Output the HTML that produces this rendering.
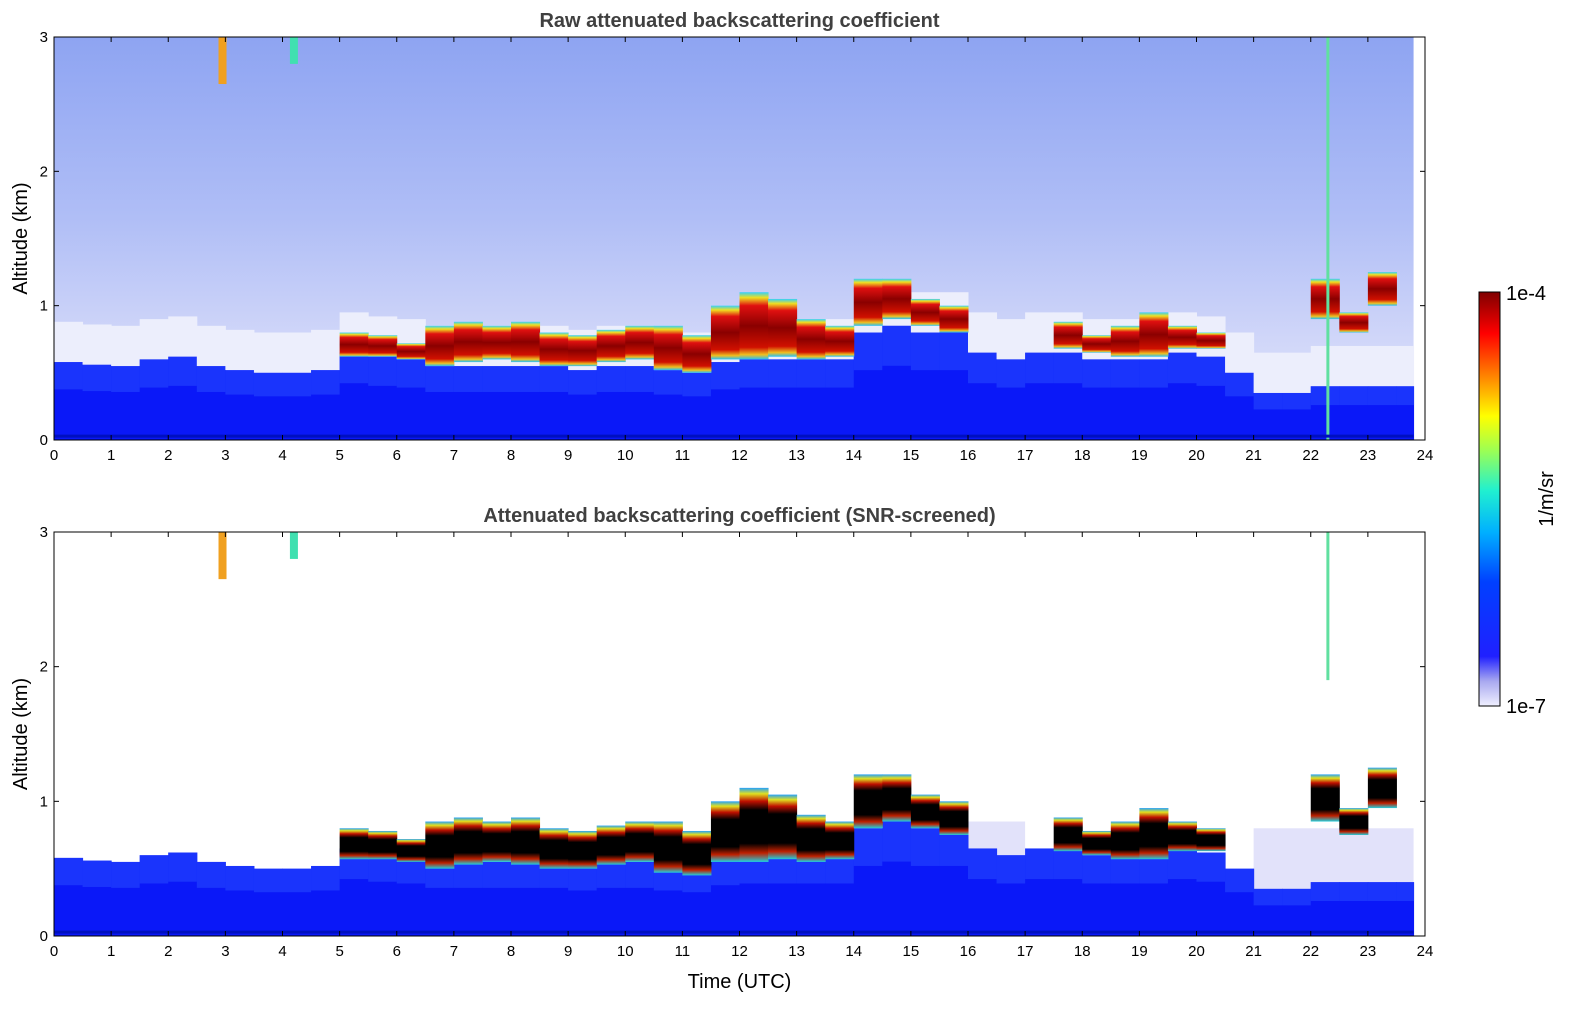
<!DOCTYPE html>
<html><head><meta charset="utf-8">
<style>
html,body{margin:0;padding:0;background:#fff;}
svg{display:block;font-family:"Liberation Sans","DejaVu Sans",sans-serif;}
</style></head>
<body>
<svg id="chart" width="1595" height="1020" viewBox="0 0 1595 1020">
<defs>
  <linearGradient id="noiseGrad" x1="0" y1="0" x2="0" y2="1">
    <stop offset="0" stop-color="#8ea4f2"/>
    <stop offset="0.45" stop-color="#b0bef6"/>
    <stop offset="0.75" stop-color="#d0d6f9"/>
    <stop offset="1" stop-color="#e4e7fb"/>
  </linearGradient>
  <linearGradient id="cloudTopGrad" x1="0" y1="0" x2="0" y2="1">
    <stop offset="0" stop-color="#30d0ff"/>
    <stop offset="0.08" stop-color="#f0e020"/>
    <stop offset="0.2" stop-color="#e01010"/>
    <stop offset="0.5" stop-color="#8a0000"/>
    <stop offset="0.82" stop-color="#d01000"/>
    <stop offset="0.93" stop-color="#f0c020"/>
    <stop offset="1" stop-color="#20c0ff"/>
  </linearGradient>
  <linearGradient id="cloudBotGrad" x1="0" y1="0" x2="0" y2="1">
    <stop offset="0" stop-color="#20a0ff"/>
    <stop offset="0.08" stop-color="#e0e020"/>
    <stop offset="0.18" stop-color="#c01000"/>
    <stop offset="0.3" stop-color="#000"/>
    <stop offset="0.75" stop-color="#000"/>
    <stop offset="0.88" stop-color="#c02000"/>
    <stop offset="1" stop-color="#20d0e0"/>
  </linearGradient>
  <linearGradient id="cbGrad" x1="0" y1="1" x2="0" y2="0">
    <stop offset="0" stop-color="#f0f0ff"/>
    <stop offset="0.06" stop-color="#a8a8f0"/>
    <stop offset="0.12" stop-color="#2020ff"/>
    <stop offset="0.3" stop-color="#0040ff"/>
    <stop offset="0.42" stop-color="#00b0ff"/>
    <stop offset="0.52" stop-color="#20f0d0"/>
    <stop offset="0.62" stop-color="#a0ff50"/>
    <stop offset="0.7" stop-color="#ffff00"/>
    <stop offset="0.8" stop-color="#ff8000"/>
    <stop offset="0.9" stop-color="#ff0000"/>
    <stop offset="1" stop-color="#800000"/>
  </linearGradient>
  <clipPath id="clipTop"><rect x="54" y="37" width="1371" height="403"/></clipPath>
  <clipPath id="clipBot"><rect x="54" y="532" width="1371" height="404"/></clipPath>
</defs>
<g id="top"></g>
<g id="bot"></g>
<g id="cb"></g>
</svg>
<script>
const times = [0,0.5,1,1.5,2,2.5,3,3.5,4,4.5,5,5.5,6,6.5,7,7.5,8,8.5,9,9.5,10,10.5,11,11.5,12,12.5,13,13.5,14,14.5,15,15.5,16,16.5,17,17.5,18,18.5,19,19.5,20,20.5,21,21.5,22,22.5,23,23.5];
const blTop = [0.58,0.56,0.55,0.6,0.62,0.55,0.52,0.5,0.5,0.52,0.65,0.62,0.6,0.55,0.55,0.55,0.55,0.55,0.52,0.55,0.55,0.52,0.5,0.58,0.6,0.6,0.6,0.6,0.8,0.85,0.8,0.8,0.65,0.6,0.65,0.65,0.6,0.6,0.6,0.65,0.62,0.5,0.35,0.35,0.4,0.4,0.4,0.4];
const cloudBase = [0,0,0,0,0,0,0,0,0,0,0.62,0.62,0.6,0.55,0.58,0.6,0.58,0.55,0.55,0.58,0.6,0.52,0.5,0.6,0.6,0.62,0.6,0.62,0.85,0.9,0.85,0.8,0,0,0,0.68,0.65,0.62,0.62,0.68,0.68,0,0,0,0.9,0.8,1.0,0];
const cloudTop = [0,0,0,0,0,0,0,0,0,0,0.8,0.78,0.72,0.85,0.88,0.85,0.88,0.8,0.78,0.82,0.85,0.85,0.78,1.0,1.1,1.05,0.9,0.85,1.2,1.2,1.05,1.0,0,0,0,0.88,0.78,0.85,0.95,0.85,0.8,0,0,0,1.2,0.95,1.25,0];
const lavStart = [14,21];
const lavEnd = [17,23.8];
const lavTop = [0.85,0.8];
const plumeTimes = [2.95,4.2,22.3];
const plumeBottoms = [2.65,2.8,1.9];
const plumeColors = ["#f0a020","#40e0b0","#60e0a0"];
const xTicks = [0,1,2,3,4,5,6,7,8,9,10,11,12,13,14,15,16,17,18,19,20,21,22,23,24];
const yTicks = [0,1,2,3];
const dataEnd = 23.8;
const binW = 0.5;

const NS = "http://www.w3.org/2000/svg";
function mk(tag, attrs, parent){ const e=document.createElementNS(NS,tag); for(const k in attrs) e.setAttribute(k,attrs[k]); parent.appendChild(e); return e; }

function panel(g, y0, y1, raw, title, showXLabel){
  const X0=54, X1=1425;
  const xs = t => X0 + (t/24)*(X1-X0);
  const ys = a => y1 - (a/3)*(y1-y0);
  const clip = mk('g',{'clip-path': raw?'url(#clipTop)':'url(#clipBot)'},g);
  if(raw){
    const n = mk('rect',{x:xs(0),y:ys(3),width:xs(dataEnd)-xs(0),height:ys(0)-ys(3),fill:'url(#noiseGrad)'},clip);
    
    
  } else {
    for(let i=0;i<lavStart.length;i++){
      const r = mk('rect',{x:xs(lavStart[i]),y:ys(lavTop[i]),width:xs(lavEnd[i])-xs(lavStart[i]),height:ys(0)-ys(lavTop[i]),fill:'#e2e2fa'},clip);
      
      
    }
  }
  for(let i=0;i<times.length;i++){
    const t=times[i], w=Math.min(binW, dataEnd-t);
    if(w<=0) continue;
    if(raw){
      const h = mk('rect',{x:xs(t),y:ys(blTop[i]+0.3),width:xs(t+w)-xs(t)+0.5,height:ys(blTop[i])-ys(blTop[i]+0.3),fill:'#eceefc'},clip);
      
      
    }
    const b = mk('rect',{x:xs(t),y:ys(blTop[i]),width:xs(t+w)-xs(t)+0.5,height:ys(0)-ys(blTop[i]),fill:'#0a18f8'},clip);
    
    
    const b2 = mk('rect',{x:xs(t),y:ys(blTop[i]),width:xs(t+w)-xs(t)+0.5,height:(ys(0)-ys(blTop[i]))*0.35,fill:'#2a50ff',opacity:0.5},clip);
    
    
  }
  for(let i=0;i<times.length;i++){
    if(!cloudTop[i]) continue;
    const t=times[i];
    const base = raw ? cloudBase[i] : cloudBase[i]-0.05;
    const c = mk('rect',{x:xs(t),y:ys(cloudTop[i]),width:xs(t+binW)-xs(t)+0.5,height:ys(base)-ys(cloudTop[i]),fill: raw?'url(#cloudTopGrad)':'url(#cloudBotGrad)'},clip);
    
    
  }
  for(let i=0;i<plumeTimes.length;i++){
    const w = i===2?3:8;
    const bottom = (raw && i===2) ? 0 : plumeBottoms[i];
    const p = mk('rect',{x:xs(plumeTimes[i])-w/2,y:ys(3),width:w,height:ys(bottom)-ys(3),fill:plumeColors[i]},clip);
    
    
  }
  const gl = mk('rect',{x:xs(0),y:ys(0.04),width:xs(dataEnd)-xs(0),height:3,fill:'#0010c0'},clip);
  
  
  const fr = mk('rect',{x:X0,y:y0,width:X1-X0,height:y1-y0,fill:'none',stroke:'#000','stroke-width':1},g);
  
  
  for(const t of xTicks){
    mk('line',{x1:xs(t),x2:xs(t),y1:y1,y2:y1-5,stroke:'#000'},g);
    mk('line',{x1:xs(t),x2:xs(t),y1:y0,y2:y0+5,stroke:'#000'},g);
    const tx = mk('text',{x:xs(t),y:y1+20,'text-anchor':'middle','font-size':15,fill:'#000'},g);
    tx.textContent=t;
    
    
  }
  for(const a of yTicks){
    mk('line',{x1:X0,x2:X0+5,y1:ys(a),y2:ys(a),stroke:'#000'},g);
    mk('line',{x1:X1,x2:X1-5,y1:ys(a),y2:ys(a),stroke:'#000'},g);
    const ty = mk('text',{x:X0-6,y:ys(a)+5,'text-anchor':'end','font-size':15,fill:'#000'},g);
    ty.textContent=a;
    
    
  }
  const tt = mk('text',{x:(X0+X1)/2,y:y0-10,'text-anchor':'middle','font-size':20,'font-weight':'bold',fill:'#404040'},g);
  tt.textContent=title;
  
  
  const yl = mk('text',{x:0,y:0,'text-anchor':'middle','font-size':20,fill:'#000',transform:`translate(27,${(y0+y1)/2}) rotate(-90)`},g);
  yl.textContent='Altitude (km)';
  
  
  if(showXLabel){
    const xl = mk('text',{x:(X0+X1)/2,y:y1+52,'text-anchor':'middle','font-size':20,fill:'#000'},g);
    xl.textContent='Time (UTC)';
    
    
  }
}
panel(document.getElementById('top'),37,440,true,'Raw attenuated backscattering coefficient',false);
panel(document.getElementById('bot'),532,936,false,'Attenuated backscattering coefficient (SNR-screened)',true);

const cb = document.getElementById('cb');
const cbr = mk('rect',{x:1479,y:292,width:21,height:414,fill:'url(#cbGrad)',stroke:'#000','stroke-width':1},cb);


const l1 = mk('text',{x:1506,y:300,'font-size':20,fill:'#000'},cb); l1.textContent='1e-4';


const l2 = mk('text',{x:1506,y:713,'font-size':20,fill:'#000'},cb); l2.textContent='1e-7';


const l3 = mk('text',{x:0,y:0,'text-anchor':'middle','font-size':20,fill:'#000',transform:'translate(1553,499) rotate(-90)'},cb); l3.textContent='1/m/sr';


</script>
</body></html>
